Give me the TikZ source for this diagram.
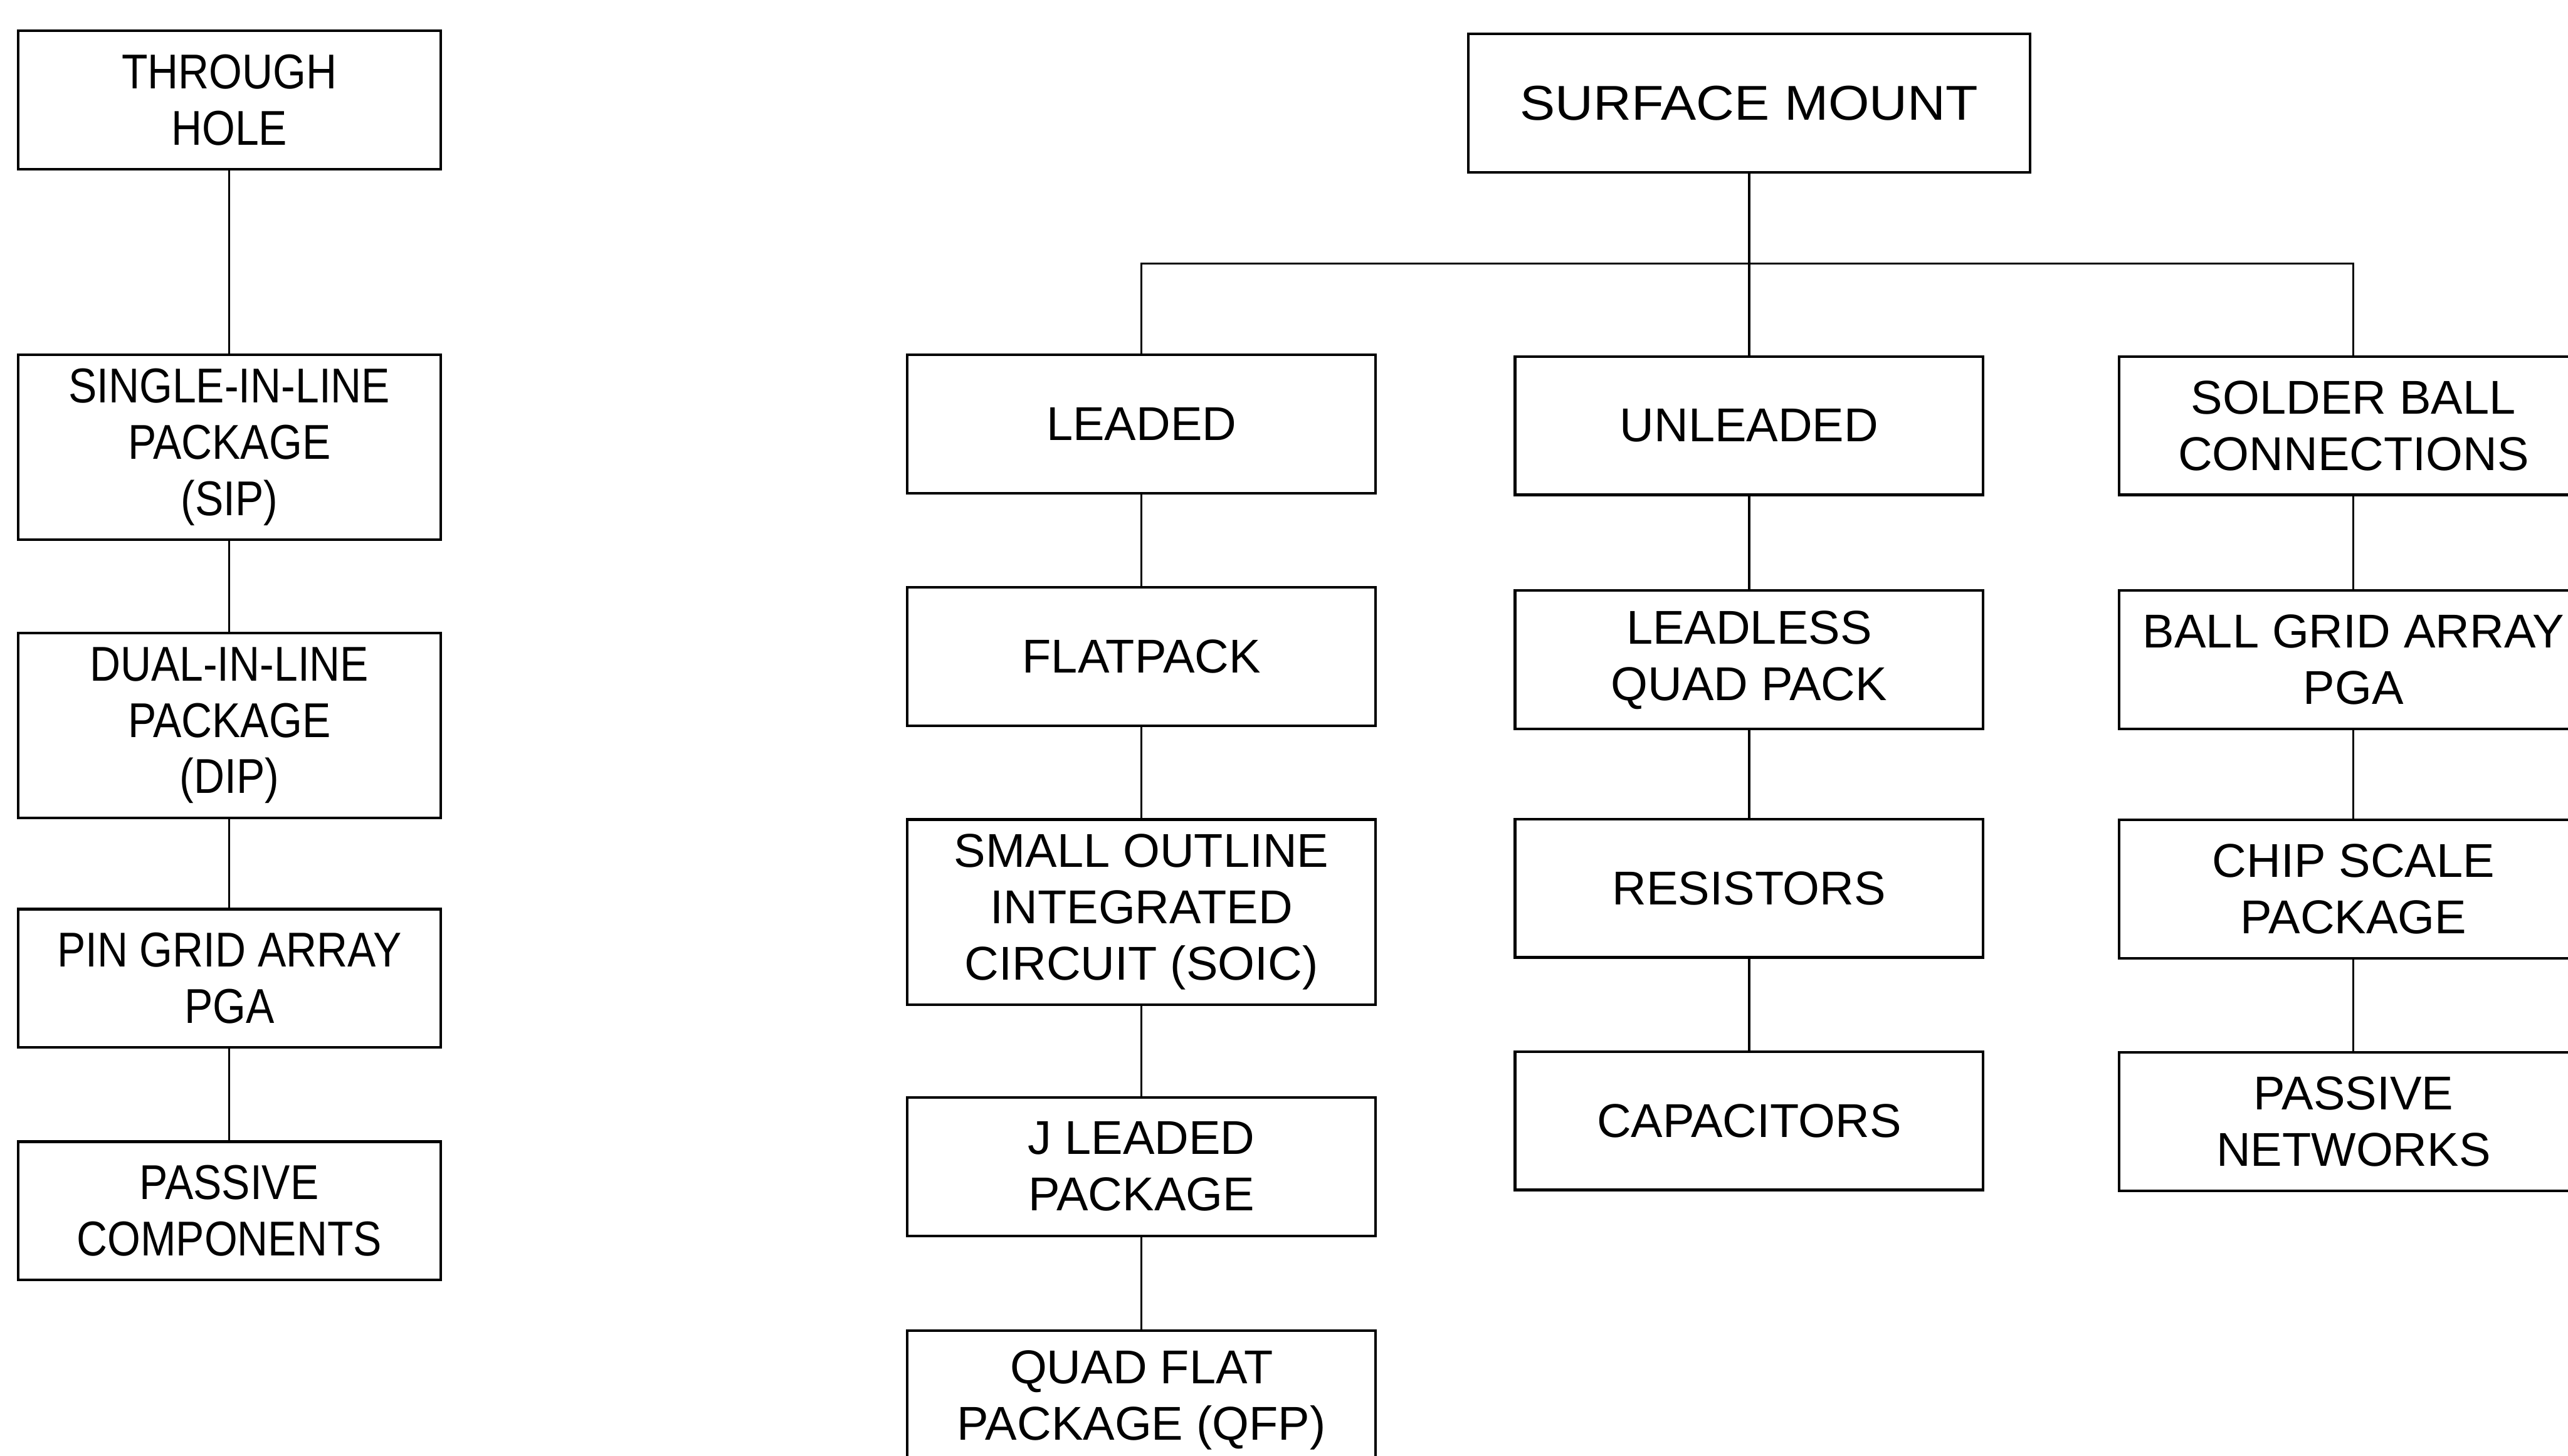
\documentclass[tikz,border=0pt]{standalone}
\usepackage{fontspec}
\setmainfont{Liberation Sans}
\newfontfamily\narrowsans[FakeStretch=0.87]{Liberation Sans}
\newfontfamily\widesans[FakeStretch=1.08]{Liberation Sans}
\usetikzlibrary{positioning}

\begin{document}
\begin{tikzpicture}[x=0.02cm,y=-0.02cm,
    box/.style={draw,line width=0.9pt,align=center,inner sep=0pt,
      minimum height=1.69cm,font=\fontsize{16.5}{19.6}\selectfont},
    lbox/.style={box,minimum width=5.16cm,
      font=\narrowsans\fontsize{17}{19.6}\selectfont},
    rbox/.style={box,minimum width=5.72cm},
    tall/.style={minimum height=2.26cm},
    link/.style={line width=0.7pt}]
  \useasboundingbox (0,0) rectangle (1568,889);
  \clip (0,0) rectangle (1568,889);

  % through hole column
  \node[lbox] (th) at (140,61) {THROUGH\\HOLE};
  \node[lbox,tall] (sip) at (140,273) {SINGLE-IN-LINE\\PACKAGE\\(SIP)};
  \node[lbox,tall] (dip) at (140,443) {DUAL-IN-LINE\\PACKAGE\\(DIP)};
  \node[lbox] (pga) at (140,597.5) {PIN GRID ARRAY\\PGA};
  \node[lbox] (pc) at (140,739.5) {PASSIVE\\COMPONENTS};
  \foreach \a/\b in {th/sip,sip/dip,dip/pga,pga/pc}
    \draw[link] (\a) -- (\b);

  % surface mount tree
  \node[box,minimum width=6.86cm,font=\widesans\fontsize{17}{19.6}\selectfont]
    (sm) at (1068,63) {SURFACE MOUNT};
  \coordinate (bus) at (1068,161);

  \node[rbox] (led) at (697,259) {LEADED};
  \node[rbox] (flat) at (697,401) {FLATPACK};
  \node[rbox,tall] (soic) at (697,557) {SMALL OUTLINE\\INTEGRATED\\CIRCUIT (SOIC)};
  \node[rbox] (jl) at (697,712.5) {J LEADED\\PACKAGE};
  \node[rbox] (qfp) at (697,855) {QUAD FLAT\\PACKAGE (QFP)};

  \node[rbox] (unl) at (1068,260) {UNLEADED};
  \node[rbox] (lqp) at (1068,403) {LEADLESS\\QUAD PACK};
  \node[rbox] (res) at (1068,542.5) {RESISTORS};
  \node[rbox] (cap) at (1068,684.5) {CAPACITORS};

  \node[rbox] (sb) at (1437,260) {SOLDER BALL\\CONNECTIONS};
  \node[rbox] (bga) at (1437,403) {BALL GRID ARRAY\\PGA};
  \node[rbox] (csp) at (1437,543) {CHIP SCALE\\PACKAGE};
  \node[rbox] (pn) at (1437,685) {PASSIVE\\NETWORKS};

  \draw[link] (sm) -- (unl);
  \draw[link] (led.north) |- (bus) -| (sb.north);
  \foreach \a/\b in {led/flat,flat/soic,soic/jl,jl/qfp,
    unl/lqp,lqp/res,res/cap,sb/bga,bga/csp,csp/pn}
    \draw[link] (\a) -- (\b);
\end{tikzpicture}
\end{document}
